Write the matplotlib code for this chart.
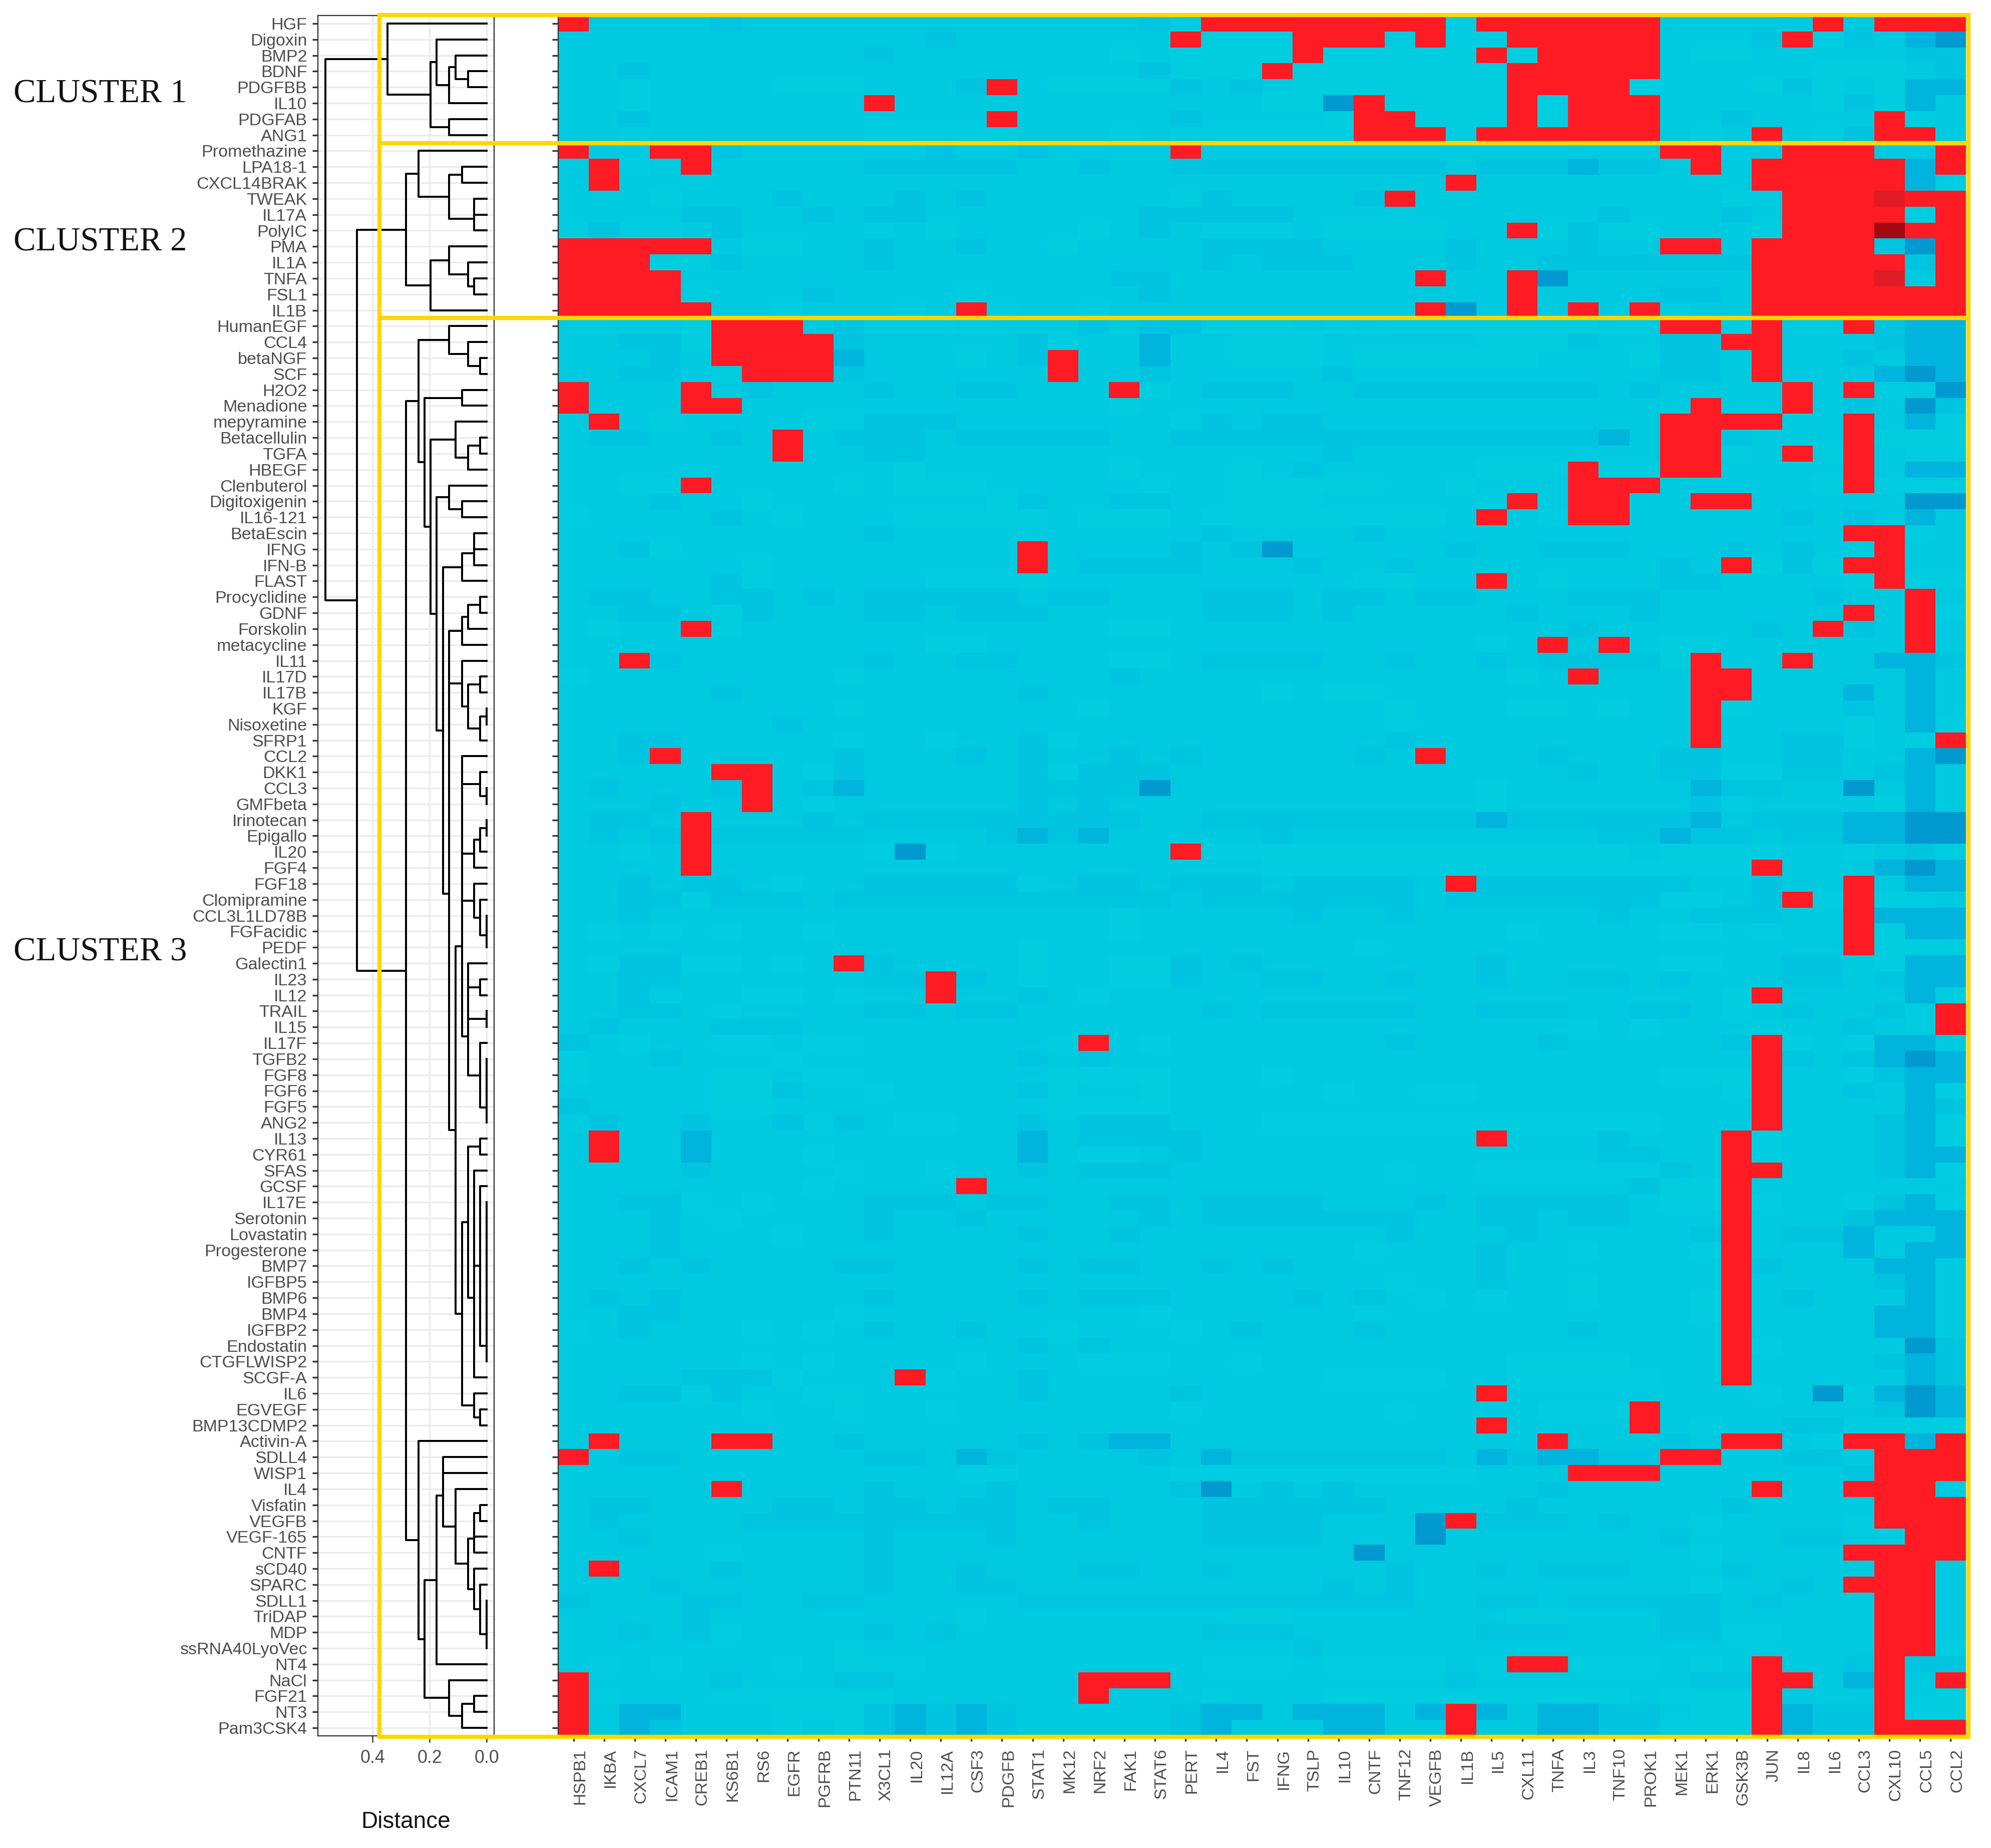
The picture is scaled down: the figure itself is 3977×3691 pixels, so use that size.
import matplotlib
matplotlib.use('Agg')
import matplotlib.pyplot as plt
import matplotlib.transforms as mtrans
from matplotlib.colors import ListedColormap
from matplotlib.patches import Rectangle
import numpy as np

plt.rcParams['font.family'] = ['Liberation Sans', 'DejaVu Sans']

W, H = 3977, 3691

row_names = ['HGF', 'Digoxin', 'BMP2', 'BDNF', 'PDGFBB', 'IL10', 'PDGFAB', 'ANG1',
             'Promethazine', 'LPA18-1', 'CXCL14BRAK', 'TWEAK', 'IL17A', 'PolyIC', 'PMA', 'IL1A', 'TNFA', 'FSL1', 'IL1B',
             'HumanEGF', 'CCL4', 'betaNGF', 'SCF', 'H2O2', 'Menadione', 'mepyramine', 'Betacellulin', 'TGFA', 'HBEGF',
             'Clenbuterol', 'Digitoxigenin', 'IL16-121', 'BetaEscin', 'IFNG', 'IFN-B', 'FLAST', 'Procyclidine', 'GDNF',
             'Forskolin', 'metacycline', 'IL11', 'IL17D', 'IL17B', 'KGF', 'Nisoxetine', 'SFRP1', 'CCL2', 'DKK1', 'CCL3',
             'GMFbeta', 'Irinotecan', 'Epigallo', 'IL20', 'FGF4', 'FGF18', 'Clomipramine', 'CCL3L1LD78B', 'FGFacidic',
             'PEDF', 'Galectin1', 'IL23', 'IL12', 'TRAIL', 'IL15', 'IL17F', 'TGFB2', 'FGF8', 'FGF6', 'FGF5', 'ANG2',
             'IL13', 'CYR61', 'SFAS', 'GCSF', 'IL17E', 'Serotonin', 'Lovastatin', 'Progesterone', 'BMP7', 'IGFBP5',
             'BMP6', 'BMP4', 'IGFBP2', 'Endostatin', 'CTGFLWISP2', 'SCGF-A', 'IL6', 'EGVEGF', 'BMP13CDMP2', 'Activin-A',
             'SDLL4', 'WISP1', 'IL4', 'Visfatin', 'VEGFB', 'VEGF-165', 'CNTF', 'sCD40', 'SPARC', 'SDLL1', 'TriDAP', 'MDP',
             'ssRNA40LyoVec', 'NT4', 'NaCl', 'FGF21', 'NT3', 'Pam3CSK4']

col_names = ['HSPB1', 'IKBA', 'CXCL7', 'ICAM1', 'CREB1', 'KS6B1', 'RS6', 'EGFR', 'PGFRB', 'PTN11', 'X3CL1', 'IL20',
             'IL12A', 'CSF3', 'PDGFB', 'STAT1', 'MK12', 'NRF2', 'FAK1', 'STAT6', 'PERT', 'IL4', 'FST', 'IFNG', 'TSLP',
             'IL10', 'CNTF', 'TNF12', 'VEGFB', 'IL1B', 'IL5', 'CXL11', 'TNFA', 'IL3', 'TNF10', 'PROK1', 'MEK1', 'ERK1',
             'GSK3B', 'JUN', 'IL8', 'IL6', 'CCL3', 'CXL10', 'CCL5', 'CCL2']

# cell codes: 0-4 = turquoise to blue, R = red, D = darker red, K = darkest red
cells = [
    'R1111 21111 11111 11112 0RRRR RRRR0 RRRRR R1111 1R1RR R',
    '11111 11111 11211 11111 R000R RR1R0 0RRRR R1112 R0213 4',
    '11111 11111 21111 11101 0000R 00000 R0RRR R1001 11112 2',
    '11211 11111 11111 11112 000R0 00000 0RRRR R1111 10001 2',
    '11011 11000 1112R 10000 21210 00000 0RRRR 01110 20103 3',
    '11011 11111 R1111 11111 11100 4R000 0R0RR R1111 10203 1',
    '11211 11111 1111R 11111 21111 0RR00 0R0RR R1121 111R0 1',
    '11011 11111 00000 11101 00000 0RRR0 RRRRR R101R 102RR 1',
    'R11RR 21111 11211 21111 R1111 11111 11111 1RR11 RRR11 R',
    '1R01R 11111 22222 11211 22222 22221 22232 21R1R RRRR3 R',
    '1R111 11111 11111 11111 11111 1111R 11111 1111R RRRR3 0',
    '11101 11211 12121 11111 02111 12R11 11111 11101 RRRDR R',
    '11112 21121 22111 11112 22221 11111 11112 11121 RRRR0 R',
    '02001 21111 01011 11012 10001 00001 1R020 01110 RRRKR R',
    'RRRRR 10011 21121 10111 12222 11112 11121 1RR1R RRR24 R',
    'RRR00 21111 21111 11111 12122 21112 11222 2222R RRRR2 R',
    'RRRR1 11111 11111 11122 11111 111R1 1R411 1111R RRRD1 R',
    'RRRR0 11121 11101 11112 11111 11111 1R111 1221R RRRRR R',
    'RRRRR 11011 101R0 11011 11111 111R4 1R1R1 R011R RRRRR R',
    '11110 RRR12 00011 11212 20001 01000 00001 1RR0R 11R23 3',
    '11220 RRRR2 11111 20113 11000 11111 00021 122RR 11123 3',
    '11121 RRRR3 11101 2R113 11000 10000 00111 0221R 11213 3',
    '11221 0RRR2 11111 1R112 11111 21111 11111 1221R 11134 3',
    'R111R 12111 21122 111R0 12221 12222 22221 21111 R1R01 4',
    'R111R R1111 11111 11101 11111 11111 11111 11R11 R1214 2',
    '1R101 11100 22211 11111 02122 11111 11111 1RRRR 11R13 0',
    '12211 21R12 22122 22211 22222 22222 22223 1RR21 11R00 0',
    '11111 11R11 22111 11111 11111 21111 11111 1RR01 R0R10 0',
    '11111 11111 10111 11101 11012 11111 000R0 0RR11 11R13 3',
    '1100R 11110 10001 11110 11000 00110 111RR R1111 10R00 0',
    '11121 10111 11110 21122 11000 11111 0R1RR 11RR1 11114 4',
    '01111 21011 10000 01000 10000 00001 R10RR 11111 21213 1',
    '11111 11111 21111 11111 12111 12111 11111 11111 11RR0 1',
    '11201 11111 11111 R1111 21241 11112 11222 11121 211R1 1',
    '11111 10111 11111 R1222 21112 11211 11111 121R0 20RR1 1',
    '11111 20111 11000 01111 11111 10011 R1011 12211 110R0 0',
    '12211 22121 22222 12211 12221 22122 11122 21111 1211R 1',
    '11221 02111 22122 21111 12221 21111 12111 21111 11R1R 0',
    '1011R 01111 11111 11100 11111 11111 11121 11112 1R21R 1',
    '11111 11111 11001 11111 11111 11111 01R1R 10011 1111R 1',
    '11R21 11111 21122 11100 12222 11211 21222 20R11 R1133 2',
    '01111 11110 11111 11121 11111 11111 101R1 11RR1 11113 1',
    '11111 21111 11111 21111 11101 00111 11111 11RR1 11313 1',
    '11111 11110 11111 11011 11111 11011 10010 11R01 11213 1',
    '11111 11211 11111 11111 11111 11011 11111 11R11 11013 0',
    '11221 11110 11011 20111 11111 11211 11111 11R11 22010 R',
    '112R1 11112 11121 21121 21111 121R1 11211 12211 22113 4',
    '11111 RR102 11111 20222 11111 11111 11121 12200 22123 1',
    '12111 2R123 11111 22224 11111 11111 01111 11322 11413 1',
    '11121 1R101 11111 21211 11111 11111 01111 11201 11103 1',
    '1221R 11121 22222 22221 12222 22222 32222 22312 22334 4',
    '1212R 22222 11112 32311 11121 11111 11112 23221 22334 4',
    '1101R 11111 04011 11111 R0000 00000 00000 10000 11012 0',
    '1111R 11111 11111 11111 11100 00000 00000 0000R 11134 3',
    '11212 21011 22222 01221 22212 2221R 22222 22112 11R13 3',
    '11220 22212 22222 22222 12222 22212 22222 20012 R0R00 1',
    '11211 11111 11111 11101 11112 11211 11112 11222 11R33 3',
    '10101 01101 11111 11101 11111 11111 10111 10010 11R03 3',
    '11111 11111 11111 01111 11111 10111 11111 11111 11R00 0',
    '10220 0101R 21111 01100 21211 11111 21111 10011 22103 3',
    '11221 11111 22R21 01100 21122 11211 21122 12111 22123 3',
    '11201 10010 11R11 21011 11111 11111 11111 1110R 11113 0',
    '11221 01111 22122 11111 12122 22211 22211 22101 21120 R',
    '12111 22211 11111 11111 11111 11111 11101 01110 11210 R',
    '21011 00100 11111 10R10 11111 11211 11211 1112R 01033 1',
    '01121 11011 11111 21211 11111 11111 11111 1111R 21234 3',
    '01111 00100 11111 10000 11101 11111 11111 1000R 11023 3',
    '11111 00211 01111 20110 11111 01100 11111 1110R 11213 0',
    '21111 00111 11111 10000 11111 11111 11111 1111R 11113 2',
    '02112 11202 10011 21222 11100 00000 00000 0111R 11123 0',
    '1R113 11111 11111 31222 21111 11111 R1112 111R0 11123 0',
    '1R113 11101 11111 31001 21111 11111 11112 211R0 11123 3',
    '11112 11110 11011 21222 11111 11011 00000 021RR 11123 0',
    '11111 11101 111R1 11111 11111 11111 11111 200R1 11111 1',
    '11220 10111 22212 21122 12222 11121 22222 100R0 11023 0',
    '11121 01111 21121 11112 12222 22211 22122 111R1 11233 3',
    '11121 11011 21111 21121 11111 11211 12111 112R1 22311 3',
    '11121 11111 11111 11111 11111 10111 21101 110R1 11313 3',
    '11212 11112 21111 21221 12121 11111 21111 111R2 11133 1',
    '11111 11111 11111 11111 11111 11011 21101 111R1 11123 1',
    '12121 11111 21111 21222 11112 12101 01101 110R1 21113 1',
    '11221 11110 11111 11110 11111 10111 11111 110R1 11133 1',
    '01211 10101 21121 10111 01211 12111 11121 111R1 11133 1',
    '11111 11111 11111 21211 11111 11111 11111 111R0 11114 2',
    '11111 10101 11101 11000 11011 11111 10000 111R1 11123 2',
    '11112 22011 1R011 21111 11111 00001 10000 011R1 11113 2',
    '11220 21100 11111 21111 21111 11111 R1111 11110 14034 3',
    '11111 10110 11011 11111 01111 11011 11000 R1111 11124 3',
    '11111 11111 11111 11111 11111 11111 R1111 R1011 22000 0',
    '1R111 RR112 11111 21233 11111 11111 11R11 121RR 10RR3 R',
    'R1221 11111 22132 11112 13222 22221 32332 2RR11 221RR R',
    '11111 11111 11100 11111 00000 00000 111RR R1111 112RR R',
    '11111 R1111 21112 11111 24121 21111 11211 1111R 11RRR 1',
    '12211 11221 22122 12211 12222 22111 12111 11121 111RR R',
    '12111 12222 22222 11211 12222 1114R 22212 11011 110RR R',
    '11211 11111 21112 11111 12222 11141 11111 12111 2210R R',
    '11111 01111 21111 11111 11111 14111 11111 11011 11RRR R',
    '1R111 21111 21121 11221 12111 11211 21222 11121 111RR 1',
    '11121 11111 21122 11111 11111 21211 11111 11011 21RRR 1',
    '21112 21122 11111 22222 22222 22211 22122 22212 111RR 1',
    '11112 11111 11101 11111 11001 11111 10011 12211 111RR 1',
    '11212 01111 21211 11111 12221 11111 22211 12200 111RR 1',
    '11111 11110 11111 11111 11112 11111 11111 11111 111RR 0',
    '10101 11010 00111 11111 10001 00001 0RR00 0101R 112R2 2',
    'R1111 21112 21111 11RRR 11111 11112 11111 1122R R13R1 R',
    'R0111 00000 01111 11R11 10111 00000 00000 1000R 111R1 0',
    'R1331 11000 23232 11111 23313 3313R 31332 2100R 322R0 0',
    'R1321 11010 23232 11111 23111 3311R 11332 2000R 322RR R',
]

# 0, 1, 2, 3, 4, R, D, K
cell_codes = '01234RDK'
cell_colors = ['#00CDE0', '#00CADF', '#00C4E0', '#00B4DD', '#0099D0', '#FF1B24', '#E11B26', '#A00A10']

distance_ticks = [0.4, 0.2, 0.0]


def chain(h, *items):
    # several branches joined at the same height
    node = items[0]
    for it in items[1:]:
        node = (h, node, it)
    return node


cluster1 = (.348, 'HGF',
            (.196,
             (.175, 'Digoxin', (.132, (.109, 'BMP2', (.066, 'BDNF', 'PDGFBB')), 'IL10')),
             (.132, 'PDGFAB', 'ANG1')))

cluster2 = (.283,
            (.239, 'Promethazine',
             (.132, (.087, 'LPA18-1', 'CXCL14BRAK'), chain(.044, 'TWEAK', 'IL17A', 'PolyIC'))),
            (.196, (.132, 'PMA', (.066, 'IL1A', (.044, 'TNFA', 'FSL1'))), 'IL1B'))

group_egf = (.132, 'HumanEGF', (.066, 'CCL4', (.023, 'betaNGF', 'SCF')))
group_beta = (.109, 'mepyramine', (.066, (.023, 'Betacellulin', 'TGFA'), 'HBEGF'))
group_clen = (.132, 'Clenbuterol', (.087, 'Digitoxigenin', 'IL16-121'))
group_ifn = (.087, chain(.044, 'BetaEscin', 'IFNG', 'IFN-B'), 'FLAST')
group_gdnf = (.087, (.066, (.023, 'Procyclidine', 'GDNF'), 'Forskolin'), 'metacycline')
group_il17 = (.087, 'IL11', (.066, (.023, 'IL17D', 'IL17B'), (.023, (.001, 'KGF', 'Nisoxetine'), 'SFRP1')))
group_dkk = (.023, 'DKK1', (.001, 'CCL3', 'GMFbeta'))
group_iri = (.044, (.023, (.001, 'Irinotecan', 'Epigallo'), 'IL20'), 'FGF4')
group_fgf18 = (.044, 'FGF18', (.023, 'Clomipramine', chain(.001, 'CCL3L1LD78B', 'FGFacidic', 'PEDF')))
group_fgf5 = (.023, 'IL17F', chain(.001, 'TGFB2', 'FGF8', 'FGF6', 'FGF5', 'ANG2'))
group_gal = chain(.066, 'Galectin1', (.023, 'IL23', 'IL12'), (.001, 'TRAIL', 'IL15'), group_fgf5)
group_bmp = (.023, 'GCSF', chain(.001, 'IL17E', 'Serotonin', 'Lovastatin', 'Progesterone', 'BMP7', 'IGFBP5',
                                 'BMP6', 'BMP4', 'IGFBP2', 'Endostatin', 'CTGFLWISP2'))
group_sfas = chain(.044, 'SFAS', group_bmp, 'SCGF-A')
group_il13 = (.066, (.023, 'IL13', 'CYR61'), group_sfas)
group_il6 = (.044, 'IL6', (.023, 'EGVEGF', 'BMP13CDMP2'))
group_ccl = chain(.087, 'CCL2', group_dkk, group_iri, group_fgf18)
group_mid = (.109, (.087, group_ccl, group_gal), (.087, group_il13, group_il6))
group_big = chain(.132, group_gdnf, group_il17, group_mid)

upper3 = (.239, group_egf,
          (.218, (.087, 'H2O2', 'Menadione'),
           (.196, group_beta, (.175, group_clen, (.153, group_ifn, group_big)))))

group_vis = (.044, chain(.044, (.023, 'Visfatin', 'VEGFB'), 'VEGF-165'), 'CNTF')
group_spa = (.044, 'sCD40', (.023, 'SPARC', chain(.001, 'SDLL1', 'TriDAP', 'MDP', 'ssRNA40LyoVec')))
group_sdll = (.153, (.153, 'SDLL4', 'WISP1'), (.109, 'IL4', (.066, group_vis, group_spa)))
lower3 = (.239, 'Activin-A',
          (.218, (.175, group_sdll, 'NT4'),
           (.132, 'NaCl', (.087, (.044, 'FGF21', 'NT3'), 'Pam3CSK4'))))

cluster3 = (.283, upper3, lower3)
tree = (.565, cluster1, (.455, cluster2, cluster3))

fig = plt.figure(figsize=(W / 300, H / 300), dpi=300)


def box(x0, y0, x1, y1):
    return [x0 / W, 1 - y1 / H, (x1 - x0) / W, (y1 - y0) / H]


PANEL_TOP, PANEL_BOTTOM = 31, 3467
nrow = len(row_names)
ncol = len(col_names)
row_pos = {n: i for i, n in enumerate(row_names)}

# dendrogram panel
ax = fig.add_axes(box(635, PANEL_TOP, 986.5, PANEL_BOTTOM))
ax.set_xlim(0.591, -0.025)
ax.set_ylim(nrow - 0.5, -0.5)
ax.set_axisbelow(True)
ax.grid(True, color='#EBEBEB', lw=0.8)
ax.set_yticks(range(nrow))
ax.set_yticklabels(row_names, fontsize=8.2, color='#4D4D4D')
ax.set_xticks(distance_ticks)
ax.set_xticklabels(['%.1f' % t for t in distance_ticks], fontsize=8.6, color='#4D4D4D')
ax.tick_params(axis='y', length=2.6, width=0.8, color='#333333', pad=2.6)
ax.tick_params(axis='x', length=3, width=0.6, color='#333333', pad=3.5)
ax.set_xlabel('Distance', fontsize=11, color='#111111', labelpad=12)
ax.xaxis.set_label_coords(0.5, -(3639 - PANEL_BOTTOM) / (PANEL_BOTTOM - PANEL_TOP), transform=ax.transAxes)
ax.xaxis.label.set_va('center')
for s in ax.spines.values():
    s.set_color('#333333')
    s.set_linewidth(0.55)


def draw_node(node):
    if isinstance(node, str):
        return 0.0, row_pos[node]
    h, a, b = node
    ha, ya = draw_node(a)
    hb, yb = draw_node(b)
    kw = dict(color='black', lw=0.95, solid_capstyle='projecting', zorder=3)
    ax.plot([ha, h, h, hb], [ya, ya, yb, yb], **kw)
    return h, (ya + yb) / 2


h_top, y_top = draw_node(tree)

# heatmap panel
ax2 = fig.add_axes(box(1115, PANEL_TOP, 3927, PANEL_BOTTOM))
matrix = np.array([[cell_codes.index(c) for c in r.replace(' ', '')] for r in cells])
cmap = ListedColormap(cell_colors)
ax2.pcolormesh(np.arange(ncol + 1) - 0.5, np.arange(nrow + 1) - 0.5, matrix,
               cmap=cmap, vmin=-0.5, vmax=7.5, shading='flat', linewidth=0, rasterized=True)
ax2.set_xlim(-0.5, ncol - 0.5)
ax2.set_ylim(nrow - 0.5, -0.5)
ax2.set_yticks(range(nrow))
ax2.set_yticklabels([])
ax2.set_xticks(range(ncol))
ax2.set_xticklabels(col_names, rotation=90, fontsize=8.2, color='#4D4D4D', va='top', ha='center')
ax2.tick_params(axis='y', length=3, width=0.8, color='#333333')
ax2.tick_params(axis='x', length=2.6, width=0.8, color='#333333', pad=3.5)
shift = mtrans.ScaledTranslation(13 / 300, 0, fig.dpi_scale_trans)
for lab in ax2.get_xticklabels():
    lab.set_transform(lab.get_transform() + shift)
for name, s in ax2.spines.items():
    s.set_visible(name == 'left')
    s.set_color('#333333')
    s.set_linewidth(0.55)

# yellow cluster frames
frame_left, frame_right = 757.5, 3932
row_h = (PANEL_BOTTOM - PANEL_TOP) / nrow
cluster_edges = [30, PANEL_TOP + 8 * row_h, PANEL_TOP + 19 * row_h, 3469]
for top, bottom in zip(cluster_edges[:-1], cluster_edges[1:]):
    fig.add_artist(Rectangle((frame_left / W, 1 - bottom / H), (frame_right - frame_left) / W, (bottom - top) / H,
                             transform=fig.transFigure, fill=False, edgecolor='#FFD700', linewidth=2.0,
                             zorder=10, joinstyle='miter'))

# cluster names
for txt, yc in [('CLUSTER 1', 188), ('CLUSTER 2', 484), ('CLUSTER 3', 1902)]:
    fig.text(27 / W, 1 - yc / H, txt, fontsize=16, family='Liberation Serif', color='#111111',
             ha='left', va='center')

fig.savefig('out.png', dpi=300, facecolor='white')
